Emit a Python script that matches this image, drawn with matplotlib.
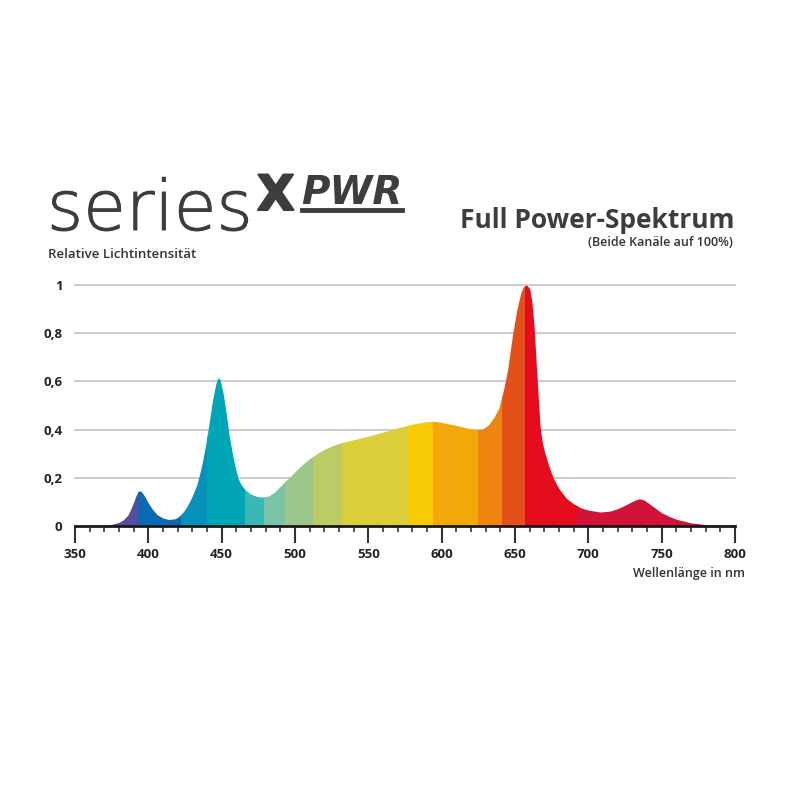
import matplotlib
matplotlib.use("Agg")
import matplotlib.pyplot as plt
import matplotlib.patheffects as pe
from matplotlib.patches import Rectangle
import numpy as np

# ---- data ----
wavelength = [350, 360, 365, 370, 375, 380, 383, 386, 388, 390, 391.5, 393, 394.5, 396, 398, 400, 403,
              406, 410, 414, 418, 420, 422, 424, 426, 428, 430, 433, 436, 438, 440, 442, 444, 446,
              447.7, 449, 451, 453, 455, 457, 459, 461, 463, 466, 470, 474, 478, 482, 486, 490, 495,
              500, 505, 510, 515, 520, 525, 530, 540, 550, 560, 570, 580, 590, 595, 600, 610, 620,
              625, 628, 632, 636, 639, 642, 645, 648, 651, 654, 656, 658, 660, 661.5, 663, 664.5,
              665.5, 667, 668.5, 670, 673, 676, 680, 685, 690, 695, 700, 708, 715, 720, 725, 730,
              733, 735, 738, 741, 745, 750, 755, 760, 770, 780, 790, 800]
intensity = [0, 0.0, 0.001, 0.003, 0.007, 0.015, 0.026, 0.045, 0.07, 0.1, 0.125, 0.143, 0.146, 0.137,
             0.118, 0.095, 0.068, 0.047, 0.033, 0.027, 0.03, 0.036, 0.046, 0.06, 0.078, 0.1, 0.125,
             0.17, 0.24, 0.3, 0.37, 0.45, 0.53, 0.59, 0.617, 0.605, 0.55, 0.47, 0.38, 0.31, 0.25,
             0.2, 0.175, 0.15, 0.132, 0.123, 0.12, 0.125, 0.14, 0.165, 0.195, 0.225, 0.255, 0.28,
             0.3, 0.318, 0.332, 0.343, 0.358, 0.373, 0.39, 0.407, 0.423, 0.433, 0.434, 0.43, 0.417,
             0.403, 0.4, 0.403, 0.42, 0.455, 0.49, 0.56, 0.65, 0.78, 0.89, 0.97, 0.995, 1.0, 0.985,
             0.93, 0.83, 0.67, 0.57, 0.42, 0.35, 0.31, 0.25, 0.2, 0.155, 0.115, 0.092, 0.075, 0.066,
             0.058, 0.062, 0.072, 0.086, 0.102, 0.11, 0.113, 0.108, 0.095, 0.077, 0.055, 0.04,
             0.028, 0.013, 0.006, 0.002, 0.0]

band_edges = [350, 393, 422, 440, 466, 479, 493, 512, 532, 577, 594, 625, 641, 657, 692, 800]
band_colors = ["#514d9f", "#0b69b3", "#0790b9", "#00a6b6", "#3ab8b6", "#7bc3a6", "#9dc78a",
               "#bdcb67", "#dacf3a", "#f8ca05", "#f3a80a", "#ef8511", "#e5501a", "#e30d1e",
               "#d01337"]

xticks = [350, 400, 450, 500, 550, 600, 650, 700, 750, 800]
yticks = [0, 0.2, 0.4, 0.6, 0.8, 1.0]
ytick_labels = ["0", "0,2", "0,4", "0,6", "0,8", "1"]

# ---- figure ----
plt.rcParams['font.family'] = ['Open Sans', 'DejaVu Sans']
fig = plt.figure(figsize=(8, 8), dpi=100)
fig.patch.set_facecolor("white")
ax = fig.add_axes([75 / 800, 274 / 800, 660 / 800, 241 / 800])
ax.set_xlim(350, 800)
ax.set_ylim(0, 1)

for y in yticks[1:]:
    ax.axhline(y, color="#c8c8c8", lw=1.3, zorder=0, clip_on=False)

for i, c in enumerate(band_colors):
    poly = ax.fill_between(wavelength, 0, intensity, color=c, lw=0, zorder=2)
    rect = Rectangle((band_edges[i], -0.01), band_edges[i + 1] - band_edges[i], 1.1,
                     transform=ax.transData)
    poly.set_clip_path(rect)

for s in ["top", "right", "left"]:
    ax.spines[s].set_visible(False)
ax.spines["bottom"].set_linewidth(2)
ax.spines["bottom"].set_color("#1a1a1a")
ax.spines["bottom"].set_zorder(5)

ax.set_xticks(xticks)
ax.set_xticks(np.arange(350, 801, 10), minor=True)
ax.set_xticklabels([str(v) for v in xticks])
ax.tick_params(axis="x", which="major", length=12, width=1.5, color="#333333",
               labelsize=9.5, pad=4, labelcolor="#222222")
ax.tick_params(axis="x", which="minor", length=4, width=1.2, color="#333333")
for lab in ax.get_xticklabels():
    lab.set_fontweight("bold")

ax.set_yticks(yticks)
ax.set_yticklabels(ytick_labels)
ax.tick_params(axis="y", length=0, pad=9, labelsize=9.5, labelcolor="#222222")
for lab in ax.get_yticklabels():
    lab.set_fontweight("bold")

# ---- texts ----
fig.text(47 / 800, 1 - 230 / 800, "series", fontsize=50, color="#3d3d3d", fontweight="light",
         family=["DejaVu Sans"], ha="left", va="baseline",
         path_effects=[pe.withStroke(linewidth=0.7, foreground="#3d3d3d")])
fig.text(257 / 800, 1 - 210 / 800, "X", fontsize=35, color="#3d3d3d", fontweight="bold",
         family=["DejaVu Sans"], ha="left", va="baseline",
         path_effects=[pe.withStroke(linewidth=1.5, foreground="#3d3d3d")])
fig.text(301 / 800, 1 - 204 / 800, "PWR", fontsize=28, color="#3d3d3d", fontweight="bold",
         family=["DejaVu Sans"], ha="left", va="baseline", style="italic")
fig.add_artist(plt.Line2D([302 / 800, 402 / 800], [1 - 210 / 800, 1 - 210 / 800],
                          color="#3d3d3d", lw=3.5))
fig.text(48 / 800, 1 - 254 / 800, "Relative Lichtintensität", fontsize=9.5, color="#333333",
         ha="left", va="center", fontweight="semibold")
fig.text(735 / 800, 1 - 220 / 800, "Full Power-Spektrum", fontsize=19, color="#3d3d3d",
         ha="right", va="center", fontweight="bold")
fig.text(733 / 800, 1 - 243 / 800, "(Beide Kanäle auf 100%)", fontsize=9, color="#333333",
         ha="right", va="center", fontweight="semibold")
fig.text(745 / 800, 1 - 573 / 800, "Wellenlänge in nm", fontsize=9, color="#333333",
         ha="right", va="center", fontweight="semibold")

fig.savefig("out.png", dpi=100, facecolor="white")
